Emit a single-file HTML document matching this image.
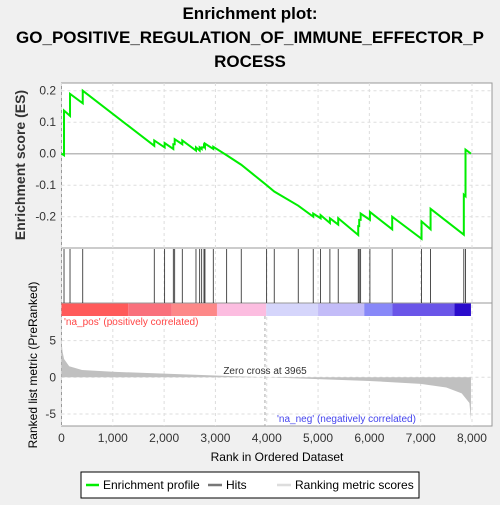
<!DOCTYPE html>
<html><head><meta charset="utf-8"><style>
body{margin:0;background:#f0f0f0;font-family:"Liberation Sans",sans-serif;}
</style></head><body>
<svg width="500" height="500" xmlns="http://www.w3.org/2000/svg" font-family="Liberation Sans, sans-serif">
<rect width="500" height="500" fill="#f0f0f0"/>
<g font-weight="bold" font-size="17" text-anchor="middle" fill="#000">
<text x="250" y="19">Enrichment plot:</text>
<text x="250" y="43">GO_POSITIVE_REGULATION_OF_IMMUNE_EFFECTOR_P</text>
<text x="250" y="67">ROCESS</text>
</g>
<rect x="61.5" y="83" width="430.5" height="165" fill="#fff" stroke="#999"/>
<rect x="61.5" y="248" width="430.5" height="55" fill="#fff" stroke="#999"/>
<rect x="61.5" y="303" width="430.5" height="123" fill="#fff" stroke="#999"/>
<g id="grid"></g>
<g id="colorbar"></g>
<g id="hits"></g>
<g id="metric"></g>
<g id="es"></g>
<g id="axes" font-size="12" fill="#333"></g>
<text x="265" y="374" font-size="10" fill="#333" text-anchor="middle">Zero cross at 3965</text>
<text x="64" y="325" font-size="10" fill="#ff4444">'na_pos' (positively correlated)</text>
<text x="277" y="422" font-size="10" fill="#4444ee">'na_neg' (negatively correlated)</text>
<text transform="translate(25,165) rotate(-90)" font-size="14" font-weight="bold" fill="#333" text-anchor="middle">Enrichment score (ES)</text>
<text transform="translate(37,365) rotate(-90)" font-size="12" fill="#000" text-anchor="middle">Ranked list metric (PreRanked)</text>
<text x="277" y="461" font-size="12" fill="#000" text-anchor="middle">Rank in Ordered Dataset</text>
<g>
<rect x="81" y="472" width="338" height="26" fill="#fff" stroke="#000"/>
<line x1="86" y1="485" x2="99" y2="485" stroke="#00ee00" stroke-width="2.5"/>
<text x="103" y="489" font-size="12">Enrichment profile</text>
<line x1="208" y1="485" x2="222" y2="485" stroke="#777" stroke-width="2.5"/>
<text x="226" y="489" font-size="12">Hits</text>
<line x1="277" y1="485" x2="291" y2="485" stroke="#ddd" stroke-width="2.5"/>
<text x="295" y="489" font-size="12">Ranking metric scores</text>
</g>
</svg>
<script>
const hitRanks=[49,166,414,1808,2010,2179,2206,2354,2621,2693,2732,2777,2796,2958,3219,3503,3998,4146,4614,4906,5050,5231,5393,5783,5802,5830,6011,6445,7017,7193,7841,7874];
const esBefore=[-0.005,0.12,0.16,0.025,0.02,0.015,0.03,0.03,0.01,0.01,0.015,0.02,0.02,0.015,-0.005,-0.035,-0.1,-0.12,-0.165,-0.2,-0.205,-0.22,-0.225,-0.258,-0.23,-0.21,-0.21,-0.24,-0.27,-0.24,-0.257,-0.135];
const esAfter=[0.137,0.19,0.2,0.042,0.034,0.03,0.046,0.042,0.02,0.02,0.02,0.025,0.032,0.022,-0.005,-0.035,-0.1,-0.12,-0.165,-0.19,-0.195,-0.205,-0.205,-0.23,-0.21,-0.19,-0.185,-0.2,-0.215,-0.175,-0.13,0.013];
const metricRanks=[0,20,50,150,400,1000,2000,3000,3965,5000,6000,7000,7500,7800,7950,7980];
const metricVals=[5,3.5,2.5,1.5,1.0,0.75,0.5,0.25,0,-0.25,-0.5,-0.9,-1.4,-2.2,-3.5,-5.8];
const xTicks=[0,1000,2000,3000,4000,5000,6000,7000,8000];
const esTicks=[0.2,0.1,0.0,-0.1,-0.2];
const metricTicks=[5,0,-5];
const barStops=[0,1300,2150,3030,3990,5000,5900,6450,7660,7980];
const barColors=['#ff5a5a','#f9707c','#fd8888','#fcbde0','#d5d5fb','#c3bcf8','#8888f8','#6a55e8','#2a0ccc'];
const NS='http://www.w3.org/2000/svg';
const X=r=>61.5+r*0.05131;
const YE=v=>153.7-v*315;
const YM=v=>377.3-v*7.33;
function mk(tag,attrs,parent){const e=document.createElementNS(NS,tag);for(const k in attrs)e.setAttribute(k,attrs[k]);document.getElementById(parent).appendChild(e);return e;}
xTicks.forEach(t=>{
 const l=mk('line',{x1:X(t),x2:X(t),y1:83,y2:426,stroke:'#ddd','stroke-dasharray':'3,3'},'grid');
 
 
 const tx=mk('text',{x:X(t),y:442,'text-anchor':'middle'},'axes');tx.textContent=t.toLocaleString('en-US');
 
 
});
esTicks.forEach(t=>{
 const l=mk('line',{x1:61.5,x2:492,y1:YE(t),y2:YE(t),stroke:t===0?'#bbb':'#ddd','stroke-dasharray':t===0?'':'3,3','stroke-width':t===0?1.5:1},'grid');
 
 
 const tx=mk('text',{x:56,y:YE(t)+4,'text-anchor':'end'},'axes');tx.textContent=t.toFixed(1);
 
 
});
metricTicks.forEach(t=>{
 const l=mk('line',{x1:61.5,x2:492,y1:YM(t),y2:YM(t),stroke:'#ddd','stroke-dasharray':'3,3'},'grid');
 
 
 const tx=mk('text',{x:56,y:YM(t)+4,'text-anchor':'end'},'axes');tx.textContent=t;
 
 
});
barColors.forEach((c,i)=>{
 const r=mk('rect',{x:X(barStops[i]),y:303.5,width:X(barStops[i+1])-X(barStops[i]),height:12.5,fill:c},'colorbar');
 
 
});
hitRanks.forEach(h=>{
 const l=mk('line',{x1:X(h),x2:X(h),y1:249,y2:303,stroke:'#222','stroke-width':0.8},'hits');
 
 
});
let d='M'+X(0)+','+YM(0);
metricRanks.forEach((r,i)=>{d+=' L'+X(r)+','+YM(metricVals[i]);});
d+=' L'+X(metricRanks[metricRanks.length-1])+','+YM(0)+' Z';
const mp=mk('path',{d:d,fill:'#c0c0c0'},'metric');


const zl=mk('line',{x1:X(3965),x2:X(3965),y1:316,y2:426,stroke:'#aaa','stroke-dasharray':'3,3'},'metric');


let p=X(0)+','+YE(0);
hitRanks.forEach((h,i)=>{p+=' '+X(h)+','+YE(esBefore[i])+' '+X(h)+','+YE(esAfter[i]);});
p+=' '+X(7980)+','+YE(0);
const el=mk('polyline',{points:p,fill:'none',stroke:'#00ee00','stroke-width':2},'es');


</script>
</body></html>
